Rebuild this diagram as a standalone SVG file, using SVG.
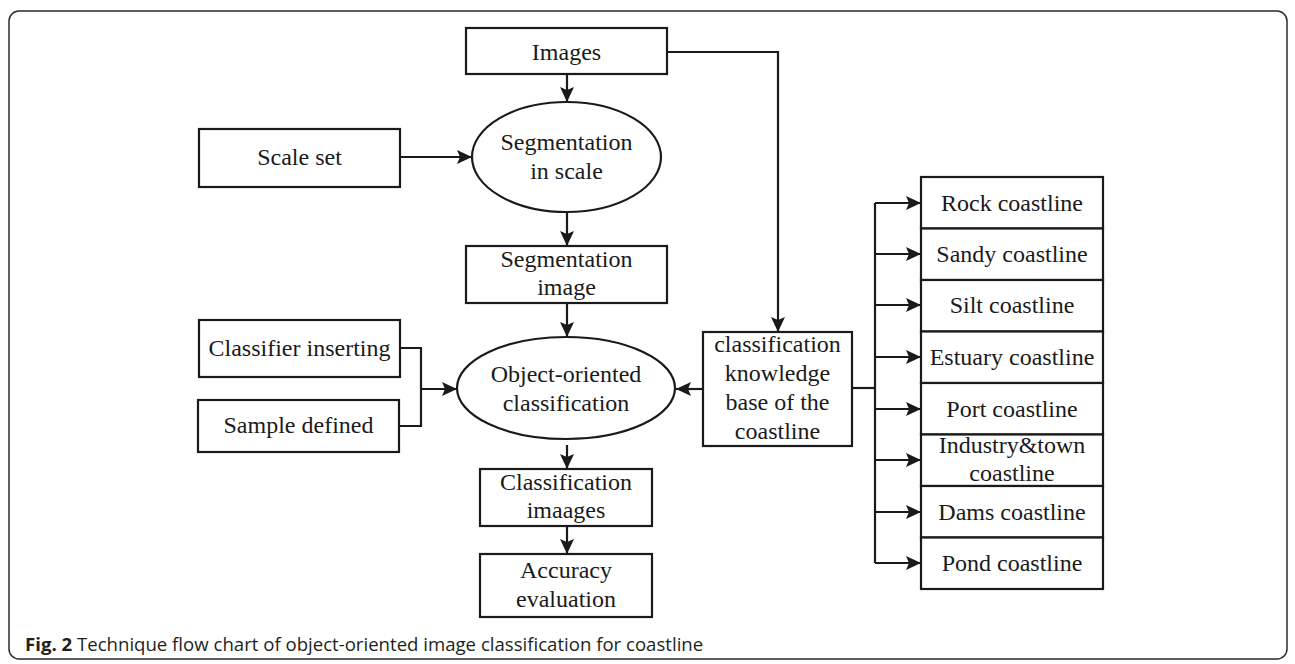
<svg xmlns="http://www.w3.org/2000/svg" width="1295" height="664" viewBox="0 0 1295 664">
<defs>
<marker id="ah" markerUnits="userSpaceOnUse" markerWidth="18" markerHeight="16" refX="15" refY="7" orient="auto">
<path d="M0,0 L15,7 L0,14 L3,7 z" fill="#1a1a1a"/>
</marker>
<style>
.box{fill:#fff;stroke:#1a1a1a;stroke-width:2.2}
.t{font-family:"Liberation Serif","Times New Roman",serif;font-size:24px;fill:#1a1a1a;text-anchor:middle}
.c{fill:none;stroke:#1a1a1a;stroke-width:2.2}
.a{fill:none;stroke:#1a1a1a;stroke-width:2.2;marker-end:url(#ah)}
.cap{font-family:"Open Sans","Noto Sans",sans-serif;font-size:18.6px;fill:#231f20}
</style>
</defs>
<rect x="9" y="11" width="1278" height="648" rx="10" fill="#fff" stroke="#2b2b2b" stroke-width="1.5"/>

<g id="connectors">
<line class="a" x1="567" y1="74" x2="567" y2="102"/>
<line class="a" x1="400" y1="157" x2="472" y2="157"/>
<line class="a" x1="567" y1="212" x2="567" y2="246"/>
<line class="a" x1="567" y1="303" x2="567" y2="337"/>
<polyline class="c" points="400,348 421,348 421,426 399,426"/>
<line class="a" x1="421" y1="389" x2="457" y2="389"/>
<line class="a" x1="567" y1="445" x2="567" y2="469"/>
<line class="a" x1="567" y1="526" x2="567" y2="554"/>
<polyline class="a" points="667,52 778,52 778,332"/>
<line class="a" x1="703" y1="389" x2="676" y2="389"/>
<line class="c" x1="852" y1="388" x2="875" y2="388"/>
<line class="c" x1="875" y1="203" x2="875" y2="563"/>
<line class="a" x1="875" y1="203" x2="921" y2="203"/>
<line class="a" x1="875" y1="254" x2="921" y2="254"/>
<line class="a" x1="875" y1="305" x2="921" y2="305"/>
<line class="a" x1="875" y1="357" x2="921" y2="357"/>
<line class="a" x1="875" y1="409" x2="921" y2="409"/>
<line class="a" x1="875" y1="460" x2="921" y2="460"/>
<line class="a" x1="875" y1="512" x2="921" y2="512"/>
<line class="a" x1="875" y1="563" x2="921" y2="563"/>
</g>

<g id="images"><rect class="box" x="466" y="28" width="201" height="46"/><text class="t" x="566.5" y="60">Images</text></g>
<g id="seg-scale"><ellipse class="box" cx="566.5" cy="157" rx="94.5" ry="55"/><text class="t" x="566.5" y="150">Segmentation</text><text class="t" x="566.5" y="179">in scale</text></g>
<g id="scale-set"><rect class="box" x="199" y="129" width="201" height="58"/><text class="t" x="299.5" y="165">Scale set</text></g>
<g id="seg-image"><rect class="box" x="466" y="246" width="201" height="57"/><text class="t" x="566.5" y="267">Segmentation</text><text class="t" x="566.5" y="295">image</text></g>
<g id="classifier"><rect class="box" x="199" y="320" width="201" height="57"/><text class="t" x="299.5" y="356">Classifier inserting</text></g>
<g id="sample"><rect class="box" x="198" y="400" width="201" height="52"/><text class="t" x="298.5" y="433">Sample defined</text></g>
<g id="object"><ellipse class="box" cx="566" cy="388" rx="109" ry="51"/><text class="t" x="566" y="382">Object-oriented</text><text class="t" x="566" y="411">classification</text></g>
<g id="class-img"><rect class="box" x="480" y="469" width="172" height="57"/><text class="t" x="566" y="490">Classification</text><text class="t" x="566" y="518">imaages</text></g>
<g id="accuracy"><rect class="box" x="480" y="554" width="172" height="63"/><text class="t" x="566" y="578">Accuracy</text><text class="t" x="566" y="607">evaluation</text></g>
<g id="knowledge"><rect class="box" x="703" y="332" width="149" height="114"/><text class="t" x="777.5" y="352">classification</text><text class="t" x="777.5" y="381">knowledge</text><text class="t" x="777.5" y="410">base of the</text><text class="t" x="777.5" y="439">coastline</text></g>

<g id="rock"><rect class="box" x="921" y="177" width="182" height="51.5"/><text class="t" x="1012" y="211">Rock coastline</text></g>
<g id="sandy"><rect class="box" x="921" y="228.5" width="182" height="51.5"/><text class="t" x="1012" y="262">Sandy coastline</text></g>
<g id="silt"><rect class="box" x="921" y="280" width="182" height="51.5"/><text class="t" x="1012" y="313">Silt coastline</text></g>
<g id="estuary"><rect class="box" x="921" y="331.5" width="182" height="51.5"/><text class="t" x="1012" y="365">Estuary coastline</text></g>
<g id="port"><rect class="box" x="921" y="383" width="182" height="51.5"/><text class="t" x="1012" y="417">Port coastline</text></g>
<g id="industry"><rect class="box" x="921" y="434.5" width="182" height="51.5"/><text class="t" x="1012" y="453">Industry&amp;town</text><text class="t" x="1012" y="481">coastline</text></g>
<g id="dams"><rect class="box" x="921" y="486" width="182" height="51.5"/><text class="t" x="1012" y="520">Dams coastline</text></g>
<g id="pond"><rect class="box" x="921" y="537.5" width="182" height="51.5"/><text class="t" x="1012" y="571">Pond coastline</text></g>

<text class="cap" x="25" y="651"><tspan font-weight="bold">Fig. 2</tspan> Technique flow chart of object-oriented image classification for coastline</text>
</svg>
